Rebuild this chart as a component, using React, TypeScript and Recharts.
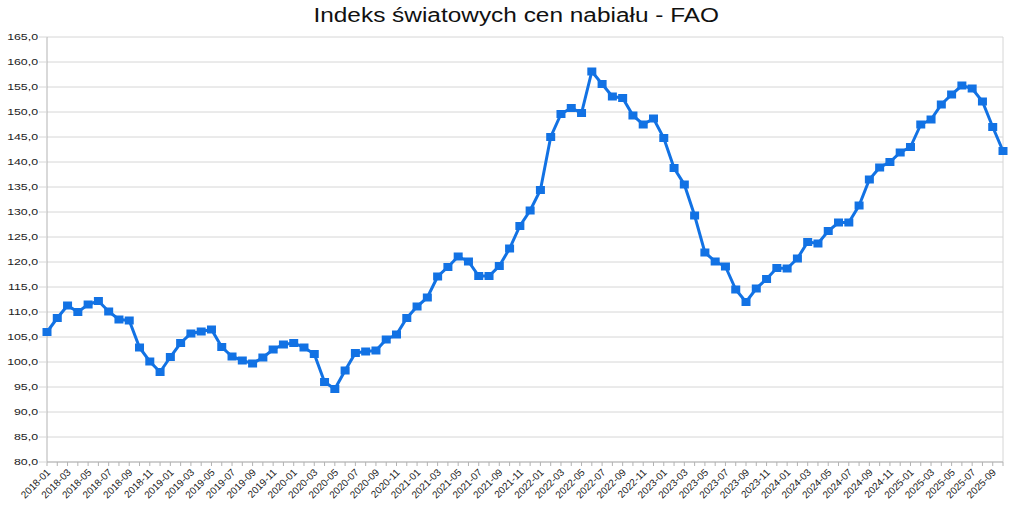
import React from 'react';
import { LineChart, Line, XAxis, YAxis, CartesianGrid, ReferenceLine } from 'recharts';

// monthly categories 2018-01 .. 2025-10
const startYear = 2018;
const monthCount = 94;
const months: string[] = Array.from({ length: monthCount }, (_, i) => {
    const y = startYear + Math.floor(i / 12);
    const m = (i % 12) + 1;
    return `${y}-${m < 10 ? '0' + m : m}`;
});

// FAO dairy price index
const indexValues: number[] = [
    106.0, 108.8, 111.3, 110.0, 111.5, 112.2, 110.1, 108.5, 108.3, 102.9, 100.1, 98.0,
    101.0, 103.8, 105.7, 106.1, 106.5, 103.0, 101.1, 100.3, 99.7, 100.9, 102.5, 103.5,
    103.8, 102.9, 101.6, 96.0, 94.6, 98.3, 101.8, 102.1, 102.3, 104.5, 105.5, 108.8,
    111.1, 112.9, 117.1, 119.0, 121.1, 120.1, 117.2, 117.2, 119.2, 122.7, 127.2, 130.3,
    134.4, 145.0, 149.6, 150.8, 149.8, 158.1, 155.6, 153.1, 152.8, 149.3, 147.5, 148.7,
    144.8, 138.8, 135.5, 129.3, 121.9, 120.1, 119.1, 114.5, 112.0, 114.7, 116.6, 118.8,
    118.7, 120.7, 124.0, 123.7, 126.2, 127.9, 127.9, 131.3, 136.5, 138.9, 140.0, 141.9,
    143.0, 147.5, 148.5, 151.5, 153.5, 155.3, 154.7, 152.1, 147.0, 142.2,
];

const yTicks: number[] = [80, 85, 90, 95, 100, 105, 110, 115, 120, 125, 130, 135, 140, 145, 150, 155, 160, 165];

const title = 'Indeks światowych cen nabiału - FAO';

const data = months.map((month, i) => ({ month, value: indexValues[i] }));

const FONT = '"Liberation Sans", Arial, sans-serif';
const LINE_COLOR = '#1272e4';
const GRID = '#d6d6d6';
const AXIS = '#b3b3b3';

const YTick = (props: any) => {
    const { x, y, payload } = props;
    const label = Number(payload.value).toFixed(1).replace('.', ',');
    return (
        <g transform={`translate(${x},${y}) scale(1.3,1)`}>
            <text x={0} y={0} dy="0.35em" textAnchor="end" fontSize={9.5} fontFamily={FONT} fill="#222">{label}</text>
        </g>
    );
};

const XTick = (props: any) => {
    const { x, y, payload } = props;
    const idx = months.indexOf(payload.value);
    if (idx % 2 !== 0) return <g />;
    return (
        <g transform={`translate(${x + 4},${y + 5}) rotate(-45)`}>
            <text x={0} y={0} textAnchor="end" fontSize={10} fontFamily={FONT} fill="#222">{payload.value}</text>
        </g>
    );
};

const SquareDot = (props: any) => {
    const { cx, cy, index } = props;
    if (cx == null || cy == null) return <g key={`d-${index}`} />;
    return <rect key={`d-${index}`} x={cx - 4.5} y={cy - 4} width={9} height={8} fill={LINE_COLOR} />;
};

export default function App() {
    return (
        <div style={{ position: 'absolute', left: 0, top: 0, width: 1024, height: 514, background: '#fff' }}>
            <div style={{ position: 'absolute', left: 4, top: 3, width: 1024, textAlign: 'center', fontFamily: FONT, fontSize: 20, lineHeight: '24px', color: '#111' }}>
                <span style={{ display: 'inline-block', transform: 'scaleX(1.22)' }}>{title}</span>
            </div>
            <LineChart width={1024} height={514} data={data} margin={{ top: 37, right: 21, left: 0, bottom: 0 }}>
                <CartesianGrid vertical={false} stroke={GRID} />
                <XAxis
                    dataKey="month"
                    interval={0}
                    height={52}
                    tickSize={4}
                    tickMargin={2}
                    tickLine={{ stroke: AXIS }}
                    axisLine={{ stroke: AXIS }}
                    tick={<XTick />}
                />
                <YAxis
                    domain={[80, 165]}
                    ticks={yTicks}
                    width={47}
                    tickSize={8}
                    tickMargin={1}
                    tickLine={{ stroke: GRID }}
                    axisLine={{ stroke: AXIS }}
                    tick={<YTick />}
                    allowDataOverflow
                />
                <ReferenceLine x={months[months.length - 1]} stroke={GRID} />
                <Line
                    type="linear"
                    dataKey="value"
                    stroke={LINE_COLOR}
                    strokeWidth={3}
                    dot={<SquareDot />}
                    activeDot={false}
                    isAnimationActive={false}
                />
            </LineChart>
        </div>
    );
}
